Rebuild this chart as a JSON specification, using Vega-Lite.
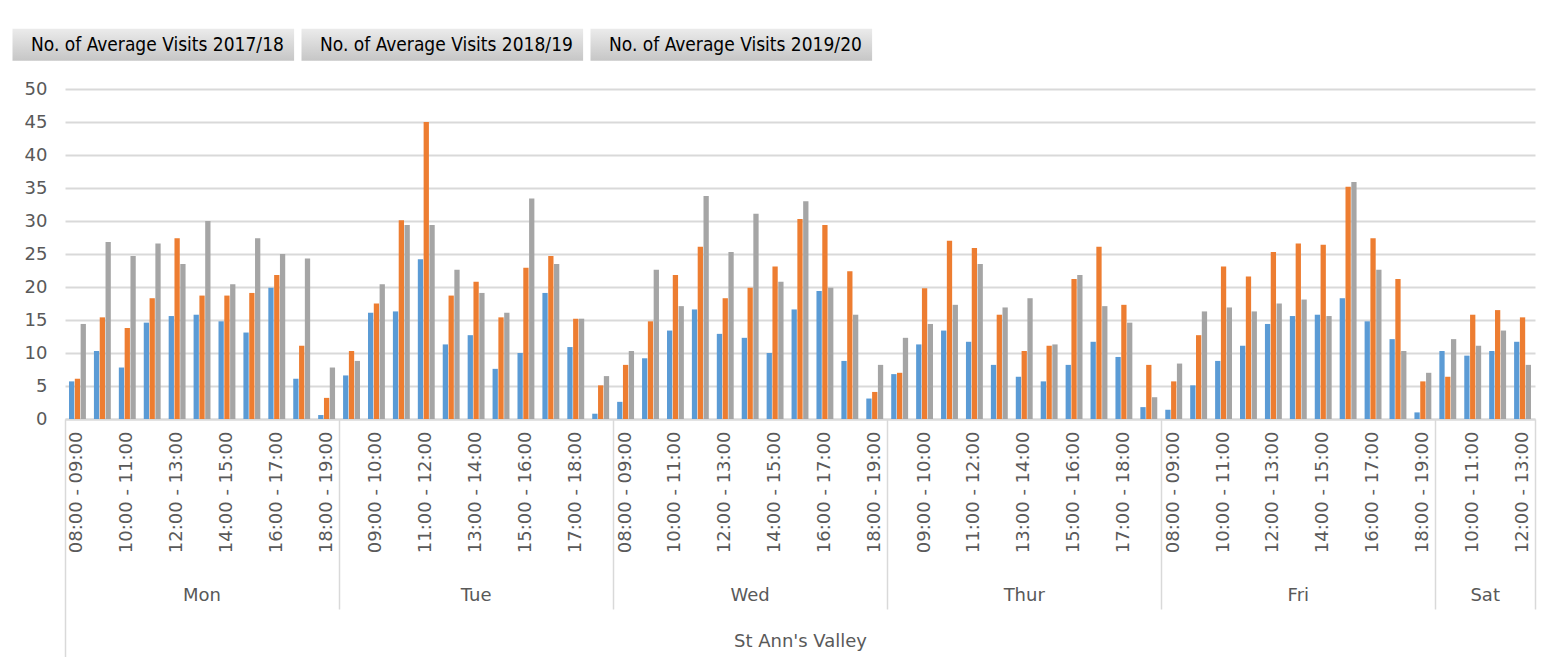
{
  "$schema": "https://vega.github.io/schema/vega-lite/v6.json",
  "width": 1470,
  "height": 330,
  "autosize": {"type": "none"},
  "padding": {"left": 65, "top": 89, "right": 12, "bottom": 238},
  "background": "white",
  "config": {"view": {"stroke": null}, "font": "DejaVu Sans"},
  "data": {"values": [
    {"k": "00|Mon|08:00 - 09:00", "2017/18": 5.7, "2018/19": 6.1, "2019/20": 14.4},
    {"k": "01|Mon|09:00 - 10:00", "2017/18": 10.3, "2018/19": 15.4, "2019/20": 26.8},
    {"k": "02|Mon|10:00 - 11:00", "2017/18": 7.8, "2018/19": 13.8, "2019/20": 24.7},
    {"k": "03|Mon|11:00 - 12:00", "2017/18": 14.6, "2018/19": 18.3, "2019/20": 26.6},
    {"k": "04|Mon|12:00 - 13:00", "2017/18": 15.6, "2018/19": 27.4, "2019/20": 23.5},
    {"k": "05|Mon|13:00 - 14:00", "2017/18": 15.8, "2018/19": 18.7, "2019/20": 30.0},
    {"k": "06|Mon|14:00 - 15:00", "2017/18": 14.8, "2018/19": 18.7, "2019/20": 20.4},
    {"k": "07|Mon|15:00 - 16:00", "2017/18": 13.1, "2018/19": 19.1, "2019/20": 27.4},
    {"k": "08|Mon|16:00 - 17:00", "2017/18": 19.9, "2018/19": 21.8, "2019/20": 25.0},
    {"k": "09|Mon|17:00 - 18:00", "2017/18": 6.1, "2018/19": 11.1, "2019/20": 24.3},
    {"k": "10|Mon|18:00 - 19:00", "2017/18": 0.6, "2018/19": 3.2, "2019/20": 7.8},
    {"k": "11|Tue|08:00 - 09:00", "2017/18": 6.6, "2018/19": 10.3, "2019/20": 8.8},
    {"k": "12|Tue|09:00 - 10:00", "2017/18": 16.1, "2018/19": 17.5, "2019/20": 20.4},
    {"k": "13|Tue|10:00 - 11:00", "2017/18": 16.3, "2018/19": 30.1, "2019/20": 29.4},
    {"k": "14|Tue|11:00 - 12:00", "2017/18": 24.2, "2018/19": 45.0, "2019/20": 29.4},
    {"k": "15|Tue|12:00 - 13:00", "2017/18": 11.3, "2018/19": 18.7, "2019/20": 22.6},
    {"k": "16|Tue|13:00 - 14:00", "2017/18": 12.7, "2018/19": 20.8, "2019/20": 19.1},
    {"k": "17|Tue|14:00 - 15:00", "2017/18": 7.6, "2018/19": 15.4, "2019/20": 16.1},
    {"k": "18|Tue|15:00 - 16:00", "2017/18": 10.0, "2018/19": 22.9, "2019/20": 33.4},
    {"k": "19|Tue|16:00 - 17:00", "2017/18": 19.1, "2018/19": 24.7, "2019/20": 23.5},
    {"k": "20|Tue|17:00 - 18:00", "2017/18": 10.9, "2018/19": 15.2, "2019/20": 15.2},
    {"k": "21|Tue|18:00 - 19:00", "2017/18": 0.8, "2018/19": 5.1, "2019/20": 6.5},
    {"k": "22|Wed|08:00 - 09:00", "2017/18": 2.6, "2018/19": 8.2, "2019/20": 10.3},
    {"k": "23|Wed|09:00 - 10:00", "2017/18": 9.2, "2018/19": 14.8, "2019/20": 22.6},
    {"k": "24|Wed|10:00 - 11:00", "2017/18": 13.4, "2018/19": 21.8, "2019/20": 17.1},
    {"k": "25|Wed|11:00 - 12:00", "2017/18": 16.6, "2018/19": 26.1, "2019/20": 33.8},
    {"k": "26|Wed|12:00 - 13:00", "2017/18": 12.9, "2018/19": 18.3, "2019/20": 25.3},
    {"k": "27|Wed|13:00 - 14:00", "2017/18": 12.3, "2018/19": 19.9, "2019/20": 31.1},
    {"k": "28|Wed|14:00 - 15:00", "2017/18": 10.0, "2018/19": 23.1, "2019/20": 20.8},
    {"k": "29|Wed|15:00 - 16:00", "2017/18": 16.6, "2018/19": 30.3, "2019/20": 33.0},
    {"k": "30|Wed|16:00 - 17:00", "2017/18": 19.4, "2018/19": 29.4, "2019/20": 19.9},
    {"k": "31|Wed|17:00 - 18:00", "2017/18": 8.8, "2018/19": 22.4, "2019/20": 15.8},
    {"k": "32|Wed|18:00 - 19:00", "2017/18": 3.1, "2018/19": 4.1, "2019/20": 8.2},
    {"k": "33|Thur|08:00 - 09:00", "2017/18": 6.8, "2018/19": 7.0, "2019/20": 12.3},
    {"k": "34|Thur|09:00 - 10:00", "2017/18": 11.3, "2018/19": 19.8, "2019/20": 14.4},
    {"k": "35|Thur|10:00 - 11:00", "2017/18": 13.4, "2018/19": 27.0, "2019/20": 17.3},
    {"k": "36|Thur|11:00 - 12:00", "2017/18": 11.7, "2018/19": 25.9, "2019/20": 23.5},
    {"k": "37|Thur|12:00 - 13:00", "2017/18": 8.2, "2018/19": 15.8, "2019/20": 16.9},
    {"k": "38|Thur|13:00 - 14:00", "2017/18": 6.4, "2018/19": 10.3, "2019/20": 18.3},
    {"k": "39|Thur|14:00 - 15:00", "2017/18": 5.7, "2018/19": 11.1, "2019/20": 11.3},
    {"k": "40|Thur|15:00 - 16:00", "2017/18": 8.2, "2018/19": 21.2, "2019/20": 21.8},
    {"k": "41|Thur|16:00 - 17:00", "2017/18": 11.7, "2018/19": 26.1, "2019/20": 17.1},
    {"k": "42|Thur|17:00 - 18:00", "2017/18": 9.4, "2018/19": 17.3, "2019/20": 14.6},
    {"k": "43|Thur|18:00 - 19:00", "2017/18": 1.8, "2018/19": 8.2, "2019/20": 3.3},
    {"k": "44|Fri|08:00 - 09:00", "2017/18": 1.4, "2018/19": 5.7, "2019/20": 8.4},
    {"k": "45|Fri|09:00 - 10:00", "2017/18": 5.1, "2018/19": 12.7, "2019/20": 16.3},
    {"k": "46|Fri|10:00 - 11:00", "2017/18": 8.8, "2018/19": 23.1, "2019/20": 16.9},
    {"k": "47|Fri|11:00 - 12:00", "2017/18": 11.1, "2018/19": 21.6, "2019/20": 16.3},
    {"k": "48|Fri|12:00 - 13:00", "2017/18": 14.4, "2018/19": 25.3, "2019/20": 17.5},
    {"k": "49|Fri|13:00 - 14:00", "2017/18": 15.6, "2018/19": 26.6, "2019/20": 18.1},
    {"k": "50|Fri|14:00 - 15:00", "2017/18": 15.8, "2018/19": 26.4, "2019/20": 15.6},
    {"k": "51|Fri|15:00 - 16:00", "2017/18": 18.3, "2018/19": 35.2, "2019/20": 35.9},
    {"k": "52|Fri|16:00 - 17:00", "2017/18": 14.8, "2018/19": 27.4, "2019/20": 22.6},
    {"k": "53|Fri|17:00 - 18:00", "2017/18": 12.1, "2018/19": 21.2, "2019/20": 10.3},
    {"k": "54|Fri|18:00 - 19:00", "2017/18": 1.0, "2018/19": 5.7, "2019/20": 7.0},
    {"k": "55|Sat|09:00 - 10:00", "2017/18": 10.3, "2018/19": 6.4, "2019/20": 12.1},
    {"k": "56|Sat|10:00 - 11:00", "2017/18": 9.6, "2018/19": 15.8, "2019/20": 11.1},
    {"k": "57|Sat|11:00 - 12:00", "2017/18": 10.3, "2018/19": 16.5, "2019/20": 13.4},
    {"k": "58|Sat|12:00 - 13:00", "2017/18": 11.7, "2018/19": 15.4, "2019/20": 8.2}
  ]},
  "transform": [{"fold": ["2017/18", "2018/19", "2019/20"], "as": ["s", "v"]}],
  "layer": [
    {
      "mark": {"type": "bar"},
      "encoding": {
        "x": {
          "field": "k", "type": "nominal",
          "scale": {"paddingInner": 0, "paddingOuter": 0},
          "axis": {
            "orient": "bottom", "title": null,
            "labelAngle": -90, "labelAlign": "right", "labelBaseline": "middle",
            "labelPadding": 12, "labelFontSize": 18,
            "labelFont": "DejaVu Sans", "labelColor": "#595959", "labelOverlap": false,
            "labelExpr": "parseInt(substring(datum.value,0,2)) % 2 == 0 ? split(datum.value,'|')[2] : ''",
            "domainColor": "#d9d9d9", "domainWidth": 1.8, "grid": false, "ticks": false
          }
        },
        "xOffset": {"field": "s", "type": "nominal", "scale": {"paddingInner": 0.09, "paddingOuter": 0.69}},
        "y": {
          "field": "v", "type": "quantitative",
          "scale": {"domain": [0, 50]},
          "axis": {
            "title": null, "values": [0, 5, 10, 15, 20, 25, 30, 35, 40, 45, 50],
            "domain": false, "ticks": false, "labelPadding": 18, "labelFontSize": 18,
            "labelFont": "DejaVu Sans", "labelColor": "#595959",
            "gridColor": "#d9d9d9", "gridWidth": 1.8
          }
        },
        "color": {
          "field": "s", "type": "nominal",
          "scale": {"domain": ["2017/18", "2018/19", "2019/20"], "range": ["#5B9BD5", "#ED7D31", "#A5A5A5"]},
          "legend": null
        }
      }
    },
    {
      "data": {"values": [
        {"btn": "No. of Average Visits 2017/18"},
        {"btn": "No. of Average Visits 2018/19"},
        {"btn": "No. of Average Visits 2019/20"}
      ]},
      "mark": {"type": "point", "filled": true, "opacity": 0,
        "color": {"gradient": "linear", "x1": 0, "y1": 0, "x2": 0, "y2": 1,
          "stops": [{"offset": 0, "color": "#ebebeb"}, {"offset": 1, "color": "#c6c6c6"}]}},
      "encoding": {
        "shape": {
          "field": "btn", "type": "nominal",
          "scale": {"range": ["M-1,-1H16.6V1H-1Z", "M-1,-1H16.6V1H-1Z", "M-1,-1H16.6V1H-1Z"]},
          "legend": {
            "orient": "none", "legendX": -53, "legendY": -61, "direction": "horizontal",
            "columns": 3, "title": null, "columnPadding": 2,
            "symbolSize": 1024, "symbolOpacity": 1,
            "symbolStrokeColor": "#ffffff", "symbolStrokeWidth": 1,
            "labelFont": "DejaVu Sans Condensed", "labelFontSize": 19, "labelColor": "#000000",
            "labelOffset": -14, "labelLimit": 0
          }
        }
      }
    },
    {
      "mark": {"type": "rule", "opacity": 0},
      "encoding": {
        "x": {
          "field": "k", "type": "nominal",
          "axis": {
            "orient": "bottom", "title": "St Ann's Valley", "titleFont": "DejaVu Sans",
            "titleFontSize": 18, "titleFontWeight": "normal", "titleColor": "#595959",
            "titlePadding": 13, "bandPosition": 1, "domain": false, "grid": false,
            "ticks": true, "tickColor": "#d9d9d9", "tickWidth": 1.5,
            "tickSize": {"condition": {"test": "indexof(['10','21','32','43','54','58'], substring(datum.value,0,2)) >= 0", "value": 190}, "value": 0},
            "labelExpr": "indexof(['05','16','27','38','49','56'], substring(datum.value,0,2)) >= 0 ? split(datum.value,'|')[1] : ''",
            "labelAngle": 0, "labelAlign": "center", "labelBaseline": "top",
            "labelPadding": 167, "labelFontSize": 18, "labelFont": "DejaVu Sans",
            "labelColor": "#595959", "labelOverlap": false,
            "labelOffset": {"condition": {"test": "substring(datum.value,0,2) == '56'", "value": 12.46}, "value": 0}
          }
        }
      }
    },
    {
      "mark": {"type": "rule", "opacity": 0},
      "encoding": {
        "x": {
          "field": "k", "type": "nominal",
          "axis": {
            "orient": "bottom", "title": null, "bandPosition": 0, "domain": false,
            "grid": false, "labels": false, "ticks": true, "tickColor": "#d9d9d9", "tickWidth": 1.5,
            "tickSize": {"condition": {"test": "substring(datum.value,0,2) == '00'", "value": 240}, "value": 0}
          }
        }
      }
    }
  ],
  "resolve": {"axis": {"x": "independent"}}
}
